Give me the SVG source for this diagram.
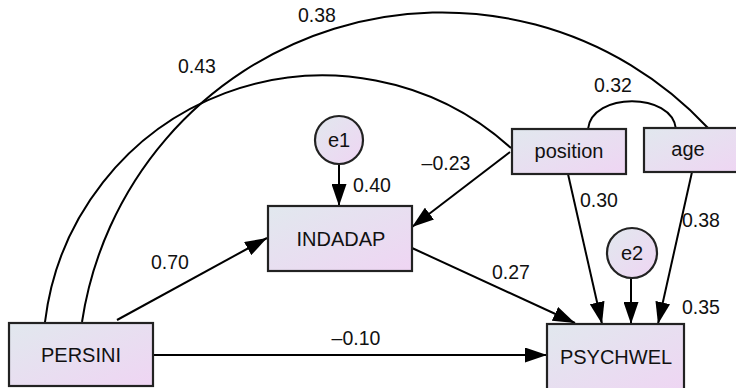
<svg xmlns="http://www.w3.org/2000/svg" width="736" height="388" viewBox="0 0 736 388">
  <defs>
    <linearGradient id="fillGrad" x1="0" y1="0" x2="1" y2="1">
      <stop offset="0" stop-color="#e1e8ee"/>
      <stop offset="1" stop-color="#efd5f3"/>
    </linearGradient>
    <marker id="arrow" markerUnits="userSpaceOnUse" markerWidth="24" markerHeight="15" refX="22" refY="7.5" orient="auto">
      <path d="M0,0 L22,7.5 L0,15 z" fill="#000"/>
    </marker>
    <style>
      .node { fill: url(#fillGrad); stroke: #222; stroke-width: 2.2; }
      .lbl { font-family: "Liberation Sans", Arial, sans-serif; font-size: 19.5px; fill: #111; text-anchor: middle; }
      .name { font-family: "Liberation Sans", Arial, sans-serif; font-size: 20px; fill: #111; text-anchor: middle; }
      .edge { fill: none; stroke: #000; stroke-width: 2; }
      .path { marker-end: url(#arrow); }
    </style>
  </defs>

  <rect width="736" height="388" fill="#fff"/>

  <!-- connectors -->
  <g id="connectors">
    <!-- covariances -->
    <path class="edge" d="M82,322 A364,364 0 0 1 708,128"/>
    <path class="edge" d="M45,322 A280,280 0 0 1 511,148"/>
    <path class="edge" d="M588,129 C592,92 672,92 676,129"/>
    <!-- regression paths -->
    <line class="edge path" x1="117" y1="320" x2="267" y2="238"/>
    <line class="edge path" x1="510" y1="152" x2="412" y2="227"/>
    <line class="edge path" x1="339" y1="164" x2="339" y2="206"/>
    <line class="edge path" x1="412" y1="248" x2="575" y2="323"/>
    <line class="edge path" x1="153" y1="355" x2="547" y2="355"/>
    <line class="edge path" x1="568" y1="174" x2="602" y2="324"/>
    <line class="edge path" x1="631" y1="278" x2="631" y2="324"/>
    <line class="edge path" x1="692" y1="172" x2="658" y2="324"/>
  </g>

  <!-- coefficient labels -->
  <g id="labels">
    <text class="lbl" x="317" y="22">0.38</text>
    <text class="lbl" x="197" y="73">0.43</text>
    <text class="lbl" x="613" y="92">0.32</text>
    <text class="lbl" x="446" y="170">–0.23</text>
    <text class="lbl" x="372" y="192">0.40</text>
    <text class="lbl" x="599" y="207">0.30</text>
    <text class="lbl" x="701" y="227">0.38</text>
    <text class="lbl" x="170" y="269">0.70</text>
    <text class="lbl" x="511" y="279">0.27</text>
    <text class="lbl" x="701" y="314">0.35</text>
    <text class="lbl" x="356" y="345">–0.10</text>
  </g>

  <g id="e1">
    <circle class="node" cx="339" cy="140" r="24"/>
    <text class="name" x="339" y="147">e1</text>
  </g>
  <g id="e2">
    <circle class="node" cx="632" cy="253" r="25"/>
    <text class="name" x="632" y="260">e2</text>
  </g>
  <g id="position">
    <rect class="node" x="512" y="129" width="114" height="45"/>
    <text class="name" x="569" y="158">position</text>
  </g>
  <g id="age">
    <rect class="node" x="644" y="128" width="100" height="44"/>
    <text class="name" x="688" y="156">age</text>
  </g>
  <g id="INDADAP">
    <rect class="node" x="268" y="206" width="144" height="65"/>
    <text class="name" x="341" y="246">INDADAP</text>
  </g>
  <g id="PERSINI">
    <rect class="node" x="9" y="323" width="144" height="63"/>
    <text class="name" x="81" y="362">PERSINI</text>
  </g>
  <g id="PSYCHWEL">
    <rect class="node" x="547" y="324" width="137" height="70"/>
    <text class="name" x="616" y="364">PSYCHWEL</text>
  </g>
</svg>
